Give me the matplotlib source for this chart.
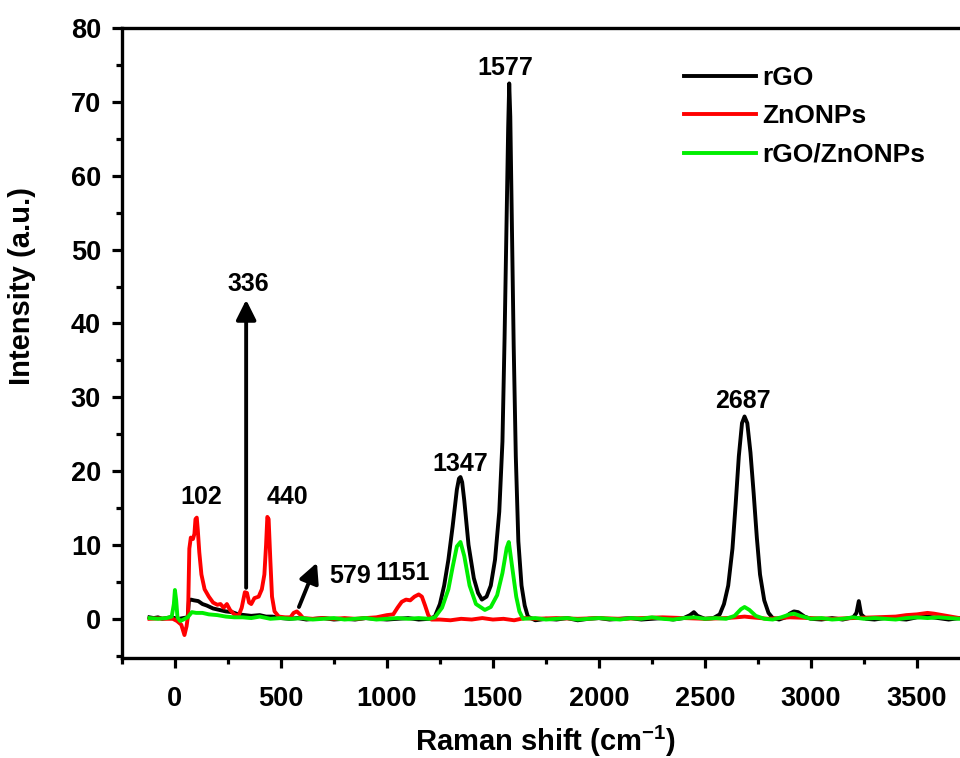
import matplotlib
matplotlib.use("Agg")
import matplotlib.pyplot as plt
from matplotlib.ticker import MultipleLocator

plt.rcParams['font.family'] = ['Liberation Sans', 'DejaVu Sans']
plt.rcParams['font.weight'] = 'bold'
plt.rcParams['mathtext.fontset'] = 'custom'
plt.rcParams['mathtext.rm'] = 'Liberation Sans:bold'
plt.rcParams['mathtext.default'] = 'rm'

# rGO spectrum
rgo_x = [-120, -100, -80, -60, -40, -20, 0, 20, 40, 60, 66, 75, 90, 110, 130,
         150, 180, 210, 240, 270, 300, 330, 360, 400, 430, 460, 500, 540, 580,
         620, 660, 700, 750, 800, 850, 900, 950, 1000, 1050, 1100, 1150, 1200,
         1226, 1250, 1270, 1290, 1310, 1330, 1340, 1347, 1355, 1365, 1385, 1410,
         1430, 1448, 1470, 1490, 1510, 1530, 1545, 1555, 1565, 1572, 1577, 1582,
         1588, 1598, 1608, 1620, 1635, 1650, 1665, 1700, 1750, 1800, 1850, 1900,
         1950, 2000, 2050, 2100, 2150, 2200, 2250, 2300, 2350, 2400, 2430, 2448,
         2465, 2500, 2540, 2570, 2590, 2610, 2630, 2645, 2660, 2675, 2687, 2700,
         2715, 2730, 2745, 2760, 2780, 2800, 2820, 2850, 2880, 2900, 2920, 2940,
         2970, 3000, 3050, 3100, 3150, 3200, 3215, 3226, 3237, 3260, 3300, 3350,
         3400, 3450, 3500, 3550, 3600, 3650, 3700, 3750, 3800]
rgo_y = [0.2, 0.1, 0.2, 0.0, 0.1, 0.2, 0.1, 0.0, 0.1, 0.2, 2.4, 2.6, 2.5, 2.4, 2.0,
         1.8, 1.4, 1.2, 1.0, 0.9, 0.6, 0.5, 0.4, 0.5, 0.3, 0.3, 0.1, 0.0, 0.1,
         -0.1, 0.0, 0.1, -0.1, 0.0, -0.1, 0.1, 0.0, -0.1, 0.0, 0.1, -0.1, 0.0,
         0.3, 2.0, 4.5, 8.0, 12.5, 17.5, 19.0, 19.2, 18.5, 16.0, 10.0, 5.5,
         3.5, 2.6, 3.0, 4.5, 8.0, 14.5, 24.0, 38.0, 55.0, 66.5, 72.5, 68.0,
         56.0, 37.0, 22.0, 10.5, 4.5, 1.8, 0.3, -0.2, 0.0, -0.1, 0.1, -0.2,
         0.0, 0.1, -0.1, 0.0, 0.1, -0.1, 0.0, 0.1, -0.1, 0.1, 0.5, 0.9,
         0.4, 0.0, 0.1, 0.6, 2.0, 4.5, 9.5, 15.5, 22.0, 26.5, 27.4, 26.5,
         22.5, 17.0, 11.0, 6.0, 2.5, 0.8, 0.1, -0.1, 0.2, 0.7, 1.0, 0.9,
         0.3, 0.0, -0.1, 0.1, -0.1, 0.2, 0.8, 2.4, 0.6, 0.0, -0.1, 0.1,
         0.0, -0.1, 0.2, 0.3, 0.1, -0.1, 0.1, 0.0, 0.1]

# ZnONPs spectrum
zno_x = [-120, -80, -40, -10, 10, 30, 45, 55, 62, 68, 75, 85, 92, 97, 103, 108,
         115, 125, 140, 160, 180, 200, 215, 230, 245, 260, 280, 300, 315, 330,
         340, 350, 360, 375, 395, 410, 422, 430, 436, 442, 450, 458, 470, 490,
         520, 545, 560, 575, 590, 605, 650, 700, 750, 800, 850, 900, 950, 1000,
         1030, 1050, 1070, 1090, 1110, 1130, 1150, 1165, 1180, 1195, 1210, 1250,
         1300, 1350, 1400, 1450, 1500, 1550, 1600, 1650, 1700, 1800, 1900, 2000,
         2100, 2200, 2300, 2400, 2500, 2600, 2650, 2687, 2720, 2800, 2900, 3000,
         3100, 3200, 3300, 3400, 3450, 3500, 3550, 3580, 3620, 3700, 3800]
zno_y = [0.0, 0.05, 0.0, 0.0, -0.3, -0.8, -2.2, -1.0, 0.5, 9.5, 11.0, 10.8, 11.5,
         13.5, 13.7, 12.0, 9.0, 6.0, 4.0, 3.0, 2.2, 1.9, 2.0, 1.5, 2.0, 1.2, 0.6,
         0.4, 1.5, 3.6, 3.5, 2.2, 2.0, 2.8, 3.0, 4.0, 6.0, 10.0, 13.8, 13.5, 8.0,
         3.0, 1.0, 0.3, 0.2, 0.2, 0.8, 1.0, 0.6, 0.1, 0.0, 0.1, 0.0, 0.1, 0.0,
         0.1, 0.2, 0.5, 0.6, 1.5, 2.3, 2.6, 2.5, 3.0, 3.3, 3.0, 1.8, 0.5, -0.1,
         -0.1, -0.2, 0.0, -0.1, 0.1, -0.1, 0.0, -0.2, 0.1, 0.0, 0.1, 0.0, 0.1,
         0.0, 0.1, 0.2, 0.1, 0.0, 0.1, 0.2, 0.3, 0.2, 0.0, 0.2, 0.1, 0.0, 0.1,
         0.2, 0.3, 0.5, 0.6, 0.8, 0.7, 0.5, 0.1, 0.0]

# rGO/ZnONPs spectrum
mix_x = [-120, -80, -40, -15, -5, 0, 6, 12, 25, 40, 60, 80, 100, 130, 160, 200,
         240, 280, 320, 360, 400, 450, 500, 550, 600, 650, 700, 750, 800, 850,
         900, 950, 1000, 1050, 1100, 1150, 1200, 1226, 1260, 1290, 1310, 1330,
         1347, 1365, 1390, 1420, 1462, 1490, 1520, 1545, 1565, 1575, 1590, 1610,
         1625, 1642, 1700, 1750, 1800, 1850, 1900, 1950, 2000, 2050, 2100, 2150,
         2200, 2250, 2300, 2350, 2400, 2450, 2500, 2550, 2600, 2640, 2670, 2687,
         2710, 2740, 2780, 2820, 2860, 2900, 2920, 2950, 3000, 3050, 3100, 3150,
         3200, 3250, 3300, 3350, 3400, 3450, 3500, 3550, 3600, 3650, 3700, 3750,
         3800]
mix_y = [0.1, 0.0, 0.1, 0.3, 2.0, 3.9, 2.5, 0.2, -0.3, -0.1, 0.2, 0.9, 0.8, 0.8,
         0.6, 0.5, 0.3, 0.2, 0.2, 0.1, 0.3, 0.0, 0.1, 0.0, 0.1, -0.1, 0.0, 0.1,
         -0.1, 0.0, 0.1, -0.1, 0.0, 0.1, 0.0, 0.1, 0.0, 0.2, 1.5, 4.0, 7.0, 9.8,
         10.4, 8.5, 4.5, 2.0, 1.2, 1.6, 3.2, 6.2, 9.6, 10.4, 7.2, 3.0, 1.0, 0.0,
         0.1, -0.1, 0.0, 0.1, -0.1, 0.0, 0.1, 0.0, -0.1, 0.1, 0.0, 0.2, 0.0,
         -0.1, 0.1, 0.2, 0.0, 0.1, 0.0, 0.4, 1.3, 1.6, 1.2, 0.4, 0.0, -0.1, 0.2,
         0.6, 0.7, 0.4, 0.0, 0.1, -0.1, 0.0, 0.2, 0.0, 0.1, 0.0, -0.1, 0.1,
         0.2, 0.1, 0.2, 0.1, 0.0, 0.1, 0.0]

labels = ['rGO', 'ZnONPs', 'rGO/ZnONPs']
colors = ['black', '#ff0000', '#00ee00']

# peak labels: text, x, y
peak_text = ['102', '440', '336', '579', '1151', '1347', '1577', '2687']
peak_x = [123, 533, 344, 825, 1075, 1344, 1557, 2679]
peak_y = [16.5, 16.5, 45.3, 5.8, 6.2, 21.0, 74.6, 29.5]

fig = plt.figure(figsize=(9.6, 7.58), dpi=100)
ax = fig.add_axes([0.127, 0.132, 0.8833, 0.831])

ax.plot(rgo_x, rgo_y, color=colors[0], lw=2.8, label=labels[0])
ax.plot(zno_x, zno_y, color=colors[1], lw=2.8, label=labels[1])
ax.plot(mix_x, mix_y, color=colors[2], lw=2.8, label=labels[2])

for t, x, y in zip(peak_text, peak_x, peak_y):
    ax.text(x, y, t, ha='center', va='center', fontsize=18, fontweight='bold')

arrow = dict(arrowstyle='-|>', lw=2.8, color='black', mutation_scale=30,
             shrinkA=0, shrinkB=0)
ax.annotate('', xy=(336, 43.2), xytext=(336, 4.2), arrowprops=arrow)
ax.annotate('', xy=(670, 7.6), xytext=(585, 1.6), arrowprops=arrow)

ax.set_xlim(-250, 3750)
ax.set_ylim(-5.3, 80)
ax.xaxis.set_major_locator(MultipleLocator(500))
ax.xaxis.set_minor_locator(MultipleLocator(250))
ax.yaxis.set_major_locator(MultipleLocator(10))
ax.yaxis.set_minor_locator(MultipleLocator(5))
ax.tick_params(which='major', direction='out', length=7, width=2.3, labelsize=19.5)
ax.tick_params(which='minor', direction='out', length=4, width=2.3)
ax.tick_params(axis='x', which='major', pad=13)
ax.tick_params(axis='y', which='major', pad=8)
for lab in ax.get_xticklabels() + ax.get_yticklabels():
    lab.set_fontweight('bold')
for s in ['left', 'top', 'bottom']:
    ax.spines[s].set_linewidth(2.4)
ax.spines['right'].set_visible(False)

ax.set_xlabel(r'Raman shift (cm$^{-1}$)', fontsize=21, fontweight='bold', labelpad=9)
ax.set_ylabel('Intensity (a.u.)', fontsize=21, fontweight='bold')
ax.yaxis.set_label_coords(-0.101, 0.59)

ax.legend(loc='upper left', bbox_to_anchor=(0.713, 0.913),
          bbox_transform=fig.transFigure, frameon=False,
          handlelength=2.7, handletextpad=0.25, labelspacing=0.55,
          borderpad=0, borderaxespad=0, prop={'weight': 'bold', 'size': 19})

fig.savefig('out.png', dpi=100)
